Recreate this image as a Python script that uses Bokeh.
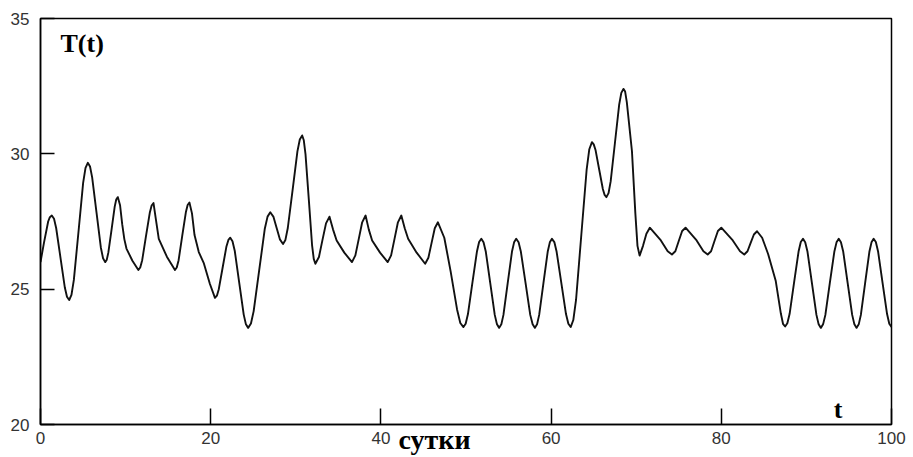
from bokeh.plotting import figure
from bokeh.models import Range1d, FixedTicker, Label, LinearAxis
from bokeh.embed import file_html
from bokeh.resources import INLINE

# time, days
t_days = [
    0.0, 0.4, 0.9, 1.1, 1.33, 1.59, 1.84, 2.35, 2.86, 3.11,
    3.37, 3.64, 3.92, 4.47, 5.01, 5.29, 5.56, 5.82, 6.07, 6.58,
    7.09, 7.35, 7.6, 7.79, 7.97, 8.35, 8.72, 8.9, 9.09, 9.35,
    9.6, 9.85, 10.1, 10.8, 11.5, 11.72, 11.95, 12.39, 12.84, 13.06,
    13.28, 13.55, 13.9, 14.85, 15.8, 16.01, 16.23, 16.65, 17.08, 17.29,
    17.5, 17.8, 18.1, 18.6, 19.2, 19.9, 20.5, 20.73, 20.95, 21.4,
    21.85, 22.08, 22.3, 22.56, 22.83, 23.35, 23.88, 24.14, 24.4, 24.73,
    25.05, 25.7, 26.35, 26.68, 27.0, 27.38, 27.75, 28.13, 28.5, 28.78,
    29.06, 29.63, 30.19, 30.47, 30.75, 30.94, 31.14, 31.53, 31.91, 32.11,
    32.3, 32.72, 33.13, 33.55, 33.96, 34.38, 34.8, 35.7, 36.6, 37.0,
    37.4, 37.8, 38.2, 38.58, 38.97, 39.9, 40.8, 41.2, 41.6, 42.0,
    42.4, 42.8, 43.2, 44.2, 45.2, 45.58, 45.95, 46.33, 46.7, 47.45,
    48.2, 48.95, 49.33, 49.7, 49.96, 50.23, 50.75, 51.28, 51.54, 51.8,
    52.06, 52.33, 52.85, 53.38, 53.64, 53.9, 54.15, 54.4, 54.9, 55.4,
    55.65, 55.9, 56.18, 56.45, 57.0, 57.55, 57.83, 58.1, 58.35, 58.6,
    59.1, 59.6, 59.85, 60.1, 60.38, 60.65, 61.2, 61.75, 62.03, 62.3,
    62.61, 62.93, 63.55, 64.18, 64.49, 64.8, 65.01, 65.23, 65.65, 66.08,
    66.29, 66.5, 66.75, 67.0, 67.5, 68.0, 68.25, 68.5, 68.7, 68.9,
    69.5, 69.9, 70.15, 70.4, 70.8, 71.2, 71.6, 72.9, 73.7, 74.2,
    74.6, 75.0, 75.4, 75.8, 77.1, 77.9, 78.4, 78.8, 79.2, 79.6,
    80.0, 81.35, 82.2, 82.7, 83.08, 83.45, 83.83, 84.2, 84.8, 85.5,
    86.4, 87.0, 87.25, 87.5, 87.76, 88.03, 88.55, 89.08, 89.34, 89.6,
    89.86, 90.13, 90.65, 91.18, 91.44, 91.7, 91.96, 92.23, 92.75, 93.28,
    93.54, 93.8, 94.06, 94.33, 94.85, 95.38, 95.64, 95.9, 96.15, 96.4,
    96.9, 97.4, 97.65, 97.9, 98.16, 98.43, 98.95, 99.48, 99.74, 100.0,
]
# temperature T(t)
temp = [
    26.0, 26.7, 27.5, 27.66, 27.72, 27.60, 27.26, 26.16, 25.06, 24.72,
    24.6, 24.79, 25.34, 27.14, 28.93, 29.48, 29.67, 29.53, 29.13, 27.84,
    26.54, 26.14, 26.0, 26.09, 26.35, 27.2, 28.05, 28.31, 28.4, 28.1,
    27.4, 26.85, 26.5, 26.05, 25.71, 25.80, 26.07, 26.95, 27.82, 28.09,
    28.18, 27.6, 26.86, 26.2, 25.71, 25.80, 26.07, 26.96, 27.84, 28.11,
    28.2, 27.8, 27.0, 26.37, 25.95, 25.2, 24.68, 24.76, 25.0, 25.79,
    26.58, 26.82, 26.9, 26.77, 26.41, 25.24, 24.06, 23.70, 23.57, 23.73,
    24.19, 25.7, 27.22, 27.68, 27.84, 27.67, 27.26, 26.84, 26.67, 26.82,
    27.26, 28.68, 30.09, 30.53, 30.68, 30.50, 29.99, 28.31, 26.63, 26.12,
    25.94, 26.19, 26.81, 27.43, 27.68, 27.2, 26.8, 26.35, 26.0, 26.25,
    26.86, 27.47, 27.72, 27.2, 26.8, 26.35, 26.0, 26.25, 26.86, 27.47,
    27.72, 27.25, 26.86, 26.35, 25.94, 26.16, 26.7, 27.25, 27.47, 26.9,
    25.65, 24.25, 23.75, 23.6, 23.72, 24.08, 25.23, 26.38, 26.74, 26.86,
    26.73, 26.38, 25.22, 24.05, 23.70, 23.57, 23.70, 24.05, 25.22, 26.38,
    26.73, 26.86, 26.73, 26.38, 25.22, 24.05, 23.70, 23.57, 23.70, 24.05,
    25.22, 26.38, 26.73, 26.86, 26.74, 26.38, 25.23, 24.08, 23.72, 23.6,
    23.86, 24.6, 27.0, 29.43, 30.17, 30.43, 30.35, 30.13, 29.42, 28.7,
    28.48, 28.4, 28.55, 28.98, 30.4, 31.82, 32.25, 32.4, 32.3, 31.9,
    30.1, 27.8, 26.6, 26.24, 26.6, 27.05, 27.27, 26.8, 26.4, 26.28,
    26.4, 26.78, 27.15, 27.27, 26.8, 26.4, 26.28, 26.4, 26.78, 27.15,
    27.27, 26.8, 26.4, 26.28, 26.4, 26.71, 27.02, 27.14, 26.9, 26.3,
    25.3, 24.1, 23.72, 23.62, 23.74, 24.09, 25.24, 26.39, 26.74, 26.86,
    26.73, 26.38, 25.22, 24.05, 23.70, 23.57, 23.70, 24.05, 25.22, 26.38,
    26.73, 26.86, 26.73, 26.38, 25.22, 24.05, 23.70, 23.57, 23.70, 24.05,
    25.22, 26.38, 26.73, 26.86, 26.74, 26.38, 25.23, 24.08, 23.72, 23.6,
]
assert len(t_days) == len(temp)

x_ticks = [0, 20, 40, 60, 80, 100]
y_ticks = [20, 25, 30, 35]
x_title = "сутки"
y_title = "T(t)"
x_var = "t"

p = figure(width=913, height=457, output_backend="svg", toolbar_location=None,
           x_range=Range1d(0, 100), y_range=Range1d(20, 35),
           min_border_left=40, min_border_right=22, min_border_top=18,
           min_border_bottom=33)

p.line(t_days, temp, line_color="#111111", line_width=1.9, line_join="round")

p.grid.visible = False
p.background_fill_color = "white"
p.border_fill_color = "white"
p.outline_line_color = "black"
p.outline_line_width = 1.5

for ax, ticks, tin, stand in ((p.xaxis, x_ticks, 16, 7), (p.yaxis, y_ticks, 14, 11)):
    ax.ticker = FixedTicker(ticks=ticks)
    ax.major_tick_in = tin
    ax.major_tick_out = 0
    ax.minor_tick_line_color = None
    ax.axis_line_color = "black"
    ax.axis_line_width = 1.5
    ax.major_tick_line_color = "black"
    ax.major_tick_line_width = 1.5
    ax.major_label_text_font = "Liberation Sans"
    ax.major_label_text_font_size = "17px"
    ax.major_label_text_color = "#333333"
    ax.major_label_standoff = stand

serif = "Liberation Serif"

# axis title "сутки" on an extra, line-less axis below the main one;
# trailing no-break spaces shift the centred title to the left
title_axis = LinearAxis(ticker=FixedTicker(ticks=[]),
                        axis_line_color=None, major_tick_line_color=None,
                        minor_tick_line_color=None,
                        major_label_text_font_size="0px",
                        major_label_standoff=0,
                        axis_label=x_title + "\u00a0" * 9,
                        axis_label_text_font=serif,
                        axis_label_text_font_style="bold",
                        axis_label_text_font_size="28px",
                        axis_label_text_color="black",
                        axis_label_standoff=-23)
p.add_layout(title_axis, "below")

p.add_layout(Label(x=2.35, y=34.6, text=y_title, text_font=serif,
                   text_font_style="bold", text_font_size="26px",
                   text_baseline="top", text_color="black"))
p.add_layout(Label(x=93.2, y=20.55, text=x_var, text_font=serif,
                   text_font_style="bold", text_font_size="26px",
                   text_baseline="alphabetic", text_color="black"))

open("out.html", "w").write(file_html(p, INLINE))
